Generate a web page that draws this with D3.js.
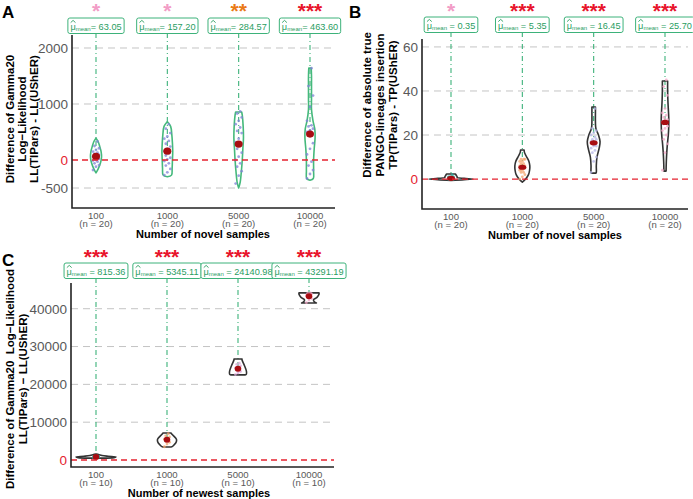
<!DOCTYPE html>
<html>
<head>
<meta charset="utf-8">
<script src="https://cdn.jsdelivr.net/npm/d3@7"></script>
<style>
  body { margin: 0; background: #fff; }
  text { font-family: "Liberation Sans", Arial, sans-serif; white-space: pre; }
</style>
</head>
<body>
<div id="rendering"></div>
<script>
const categories = ["100", "1000", "5000", "10000"];

const meansA = [63.05, 157.2, 284.57, 463.6];
const meansB = [0.35, 5.35, 16.45, 25.7];
const meansC = [815.36, 5345.11, 24140.98, 43291.19];

const starsA = ["*", "*", "**", "***"];
const starsB = ["*", "***", "***", "***"];
const starsC = ["***", "***", "***", "***"];

const ticksA = [-500, 0, 1000, 2000];
const ticksB = [0, 20, 40, 60];
const ticksC = [0, 10000, 20000, 30000, 40000];

// violin outlines: value levels and relative half widths
const levelsA = [
  [-230, -150, -50, 50, 150, 250, 330, 390],
  [-300, -270, -150, 0, 150, 300, 450, 600, 680],
  [-500, -400, -200, 0, 200, 400, 600, 800, 857],
  [-360, -330, -200, 0, 200, 400, 550, 700, 900, 1100, 1300, 1500, 1640]
];
const widthsA = [
  [0, 0.4, 0.75, 0.92, 0.85, 0.6, 0.35, 0],
  [0, 0.7, 0.8, 0.85, 0.9, 0.85, 0.75, 0.55, 0.05],
  [0, 0.25, 0.45, 0.6, 0.7, 0.8, 0.75, 0.6, 0.5],
  [0, 0.55, 0.6, 0.6, 0.7, 0.85, 0.8, 0.5, 0.25, 0.25, 0.25, 0.25, 0.2]
];
const levelsB = [
  [-0.6, -0.3, 0, 0.3, 0.7, 1, 1.5, 2.3],
  [-1.4, 0, 2, 4, 6, 8, 10, 12, 13.2],
  [2.7, 3, 6, 10, 14, 17, 20, 23, 26, 30, 32.7],
  [3.6, 4, 8, 12, 16, 20, 24, 28, 32, 36, 40, 44.5]
];
const widthsB = [
  [0, 0.6, 1, 0.6, 0.28, 0.28, 0.25, 0.2],
  [0, 0.15, 0.28, 0.33, 0.34, 0.3, 0.2, 0.1, 0.08],
  [0.1, 0.12, 0.12, 0.15, 0.25, 0.29, 0.22, 0.1, 0.08, 0.08, 0.08],
  [0.05, 0.05, 0.06, 0.08, 0.11, 0.15, 0.17, 0.17, 0.15, 0.13, 0.12, 0.12]
];
const levelsC = [
  [500, 600, 800, 1000, 1200, 1400, 1600],
  [3440, 3700, 5300, 6800, 7140],
  [22500, 22700, 23500, 25000, 26500, 26700],
  [41500, 41700, 42300, 43000, 43800, 44200]
];
const widthsC = [
  [0, 0.9, 1, 0.6, 0.3, 0.15, 0],
  [0.2, 0.3, 0.48, 0.25, 0.2],
  [0.35, 0.42, 0.42, 0.32, 0.2, 0.2],
  [0.37, 0.3, 0.22, 0.4, 0.5, 0.5]
];

// raw observations
const pointsA = [
  [-180, -120, -90, -60, -30, -10, 0, 20, 30, 50, 60, 70, 90, 110, 130, 150, 180, 210, 250, 330],
  [-270, -220, -160, -100, -60, -20, 10, 40, 80, 120, 160, 200, 240, 290, 340, 380, 420, 480, 560, 640],
  [-420, -280, -200, -120, -60, 0, 60, 130, 200, 260, 320, 380, 480, 520, 580, 640, 700, 760, 830, 870],
  [-330, -250, -180, -100, -30, 100, 200, 300, 450, 480, 500, 530, 560, 600, 620, 700, 950, 1150, 1320, 1640]
];
const pointsB = [
  [0, 0, 0, 0, 0, 0, 0, 0, 0, 0, 0, 0, 0, 0, 1, 1, 1, 1, 1, 2],
  [0, 1, 2, 3, 3, 4, 4, 5, 5, 5, 6, 6, 6, 7, 7, 8, 8, 9, 9, 9],
  [3, 8, 10, 12, 13, 14, 15, 15, 16, 16, 17, 17, 18, 18, 19, 20, 21, 22, 23, 32],
  [4, 12, 16, 18, 20, 22, 23, 24, 25, 26, 26, 27, 27, 28, 29, 30, 32, 38, 42, 45]
];
const pointsC = [
  [560, 640, 700, 760, 800, 830, 880, 930, 990, 1060],
  [3500, 4200, 4700, 5000, 5300, 5500, 5800, 6100, 6400, 6950],
  [22600, 23000, 23400, 23700, 24000, 24300, 24600, 24900, 25300, 25600],
  [41600, 42300, 42700, 43100, 43300, 43500, 43700, 43900, 44100, 44200]
];

const green = "#3db27a";
const greenText = "#2a9d5f";
const meanRed = "#a80d12";
const zeroRed = "#e5222f";
const starColors = { "*": "#f29cc6", "**": "#ea7a16", "***": "#e8142b" };

const width = 693;
const height = 499;

const svg = d3
  .select("#rendering")
  .append("svg")
  .attr("width", width)
  .attr("height", height);

function drawPanel(p) {
  const g = svg.append("g");

  const scaleX = d3.scalePoint().domain(categories).range(p.catRange);
  const scaleY = d3.scaleLinear().domain(p.domain).range([p.bottom, p.top]);
  const scaleW = d3.scaleLinear().domain([0, 1]).range([0, p.maxHalf]);

  // grid lines
  g.selectAll(".grid")
    .data(p.ticks.filter((t) => t !== 0))
    .enter()
    .append("line")
    .attr("x1", p.left)
    .attr("x2", p.right)
    .attr("y1", (d) => scaleY(d))
    .attr("y2", (d) => scaleY(d))
    .attr("stroke", "#c4c4c4")
    .attr("stroke-width", 1)
    .attr("stroke-dasharray", "7,5");

  // y tick labels
  g.selectAll(".ytick")
    .data(p.ticks)
    .enter()
    .append("text")
    .attr("x", p.left - 4)
    .attr("y", (d) => scaleY(d))
    .attr("dy", "0.36em")
    .attr("text-anchor", "end")
    .attr("font-size", 13.5)
    .attr("fill", (d) => (d === 0 ? zeroRed : "#595959"))
    .text((d) => d);

  // mean label connectors
  g.selectAll(".connector")
    .data(categories)
    .enter()
    .append("line")
    .attr("x1", (d) => scaleX(d))
    .attr("x2", (d) => scaleX(d))
    .attr("y1", p.boxY + 15)
    .attr("y2", (d, i) => scaleY(p.means[i]))
    .attr("stroke", green)
    .attr("stroke-width", 1.1)
    .attr("stroke-dasharray", "5,3,1,3");

  // violins
  const area = d3
    .area()
    .curve(d3.curveCatmullRom)
    .y((d) => scaleY(d[0]))
    .x0((d) => d[2] - scaleW(d[1]))
    .x1((d) => d[2] + scaleW(d[1]));

  g.selectAll(".violin")
    .data(categories)
    .enter()
    .append("path")
    .attr("d", (c, i) =>
      area(p.levels[i].map((v, k) => [v, p.widths[i][k], scaleX(c)]))
    )
    .attr("fill", "none")
    .attr("stroke", p.violinStroke)
    .attr("stroke-width", 1.6)
    .attr("stroke-linejoin", "round");

  // jittered points
  categories.forEach((c, i) => {
    g.selectAll(null)
      .data(p.points[i])
      .enter()
      .append("circle")
      .attr("cx", (d, k) => scaleX(c) + (((k * 7) % 5) - 2) * p.jitter)
      .attr("cy", (d) => scaleY(d))
      .attr("r", 1.4)
      .attr("fill", p.pointColors[i])
      .attr("opacity", 0.75);
  });

  // means
  g.selectAll(".mean")
    .data(categories)
    .enter()
    .append("ellipse")
    .attr("cx", (d) => scaleX(d))
    .attr("cy", (d, i) => scaleY(p.means[i]))
    .attr("rx", p.meanR[0])
    .attr("ry", p.meanR[1])
    .attr("fill", meanRed);

  // zero line
  g.append("line")
    .attr("x1", p.left)
    .attr("x2", p.right)
    .attr("y1", scaleY(0))
    .attr("y2", scaleY(0))
    .attr("stroke", zeroRed)
    .attr("stroke-width", 1.3)
    .attr("stroke-dasharray", "6,4");

  // axes lines
  g.append("path")
    .attr("d", `M${p.left},${p.top} V${p.axisBottom} H${p.right}`)
    .attr("fill", "none")
    .attr("stroke", "#222")
    .attr("stroke-width", 1.6);

  // mean label boxes, stars, x labels
  categories.forEach((c, i) => {
    const lab = g.append("g");
    const t = lab
      .append("text")
      .attr("x", scaleX(c))
      .attr("y", p.boxY + 11.5)
      .attr("font-size", 9.2)
      .attr("fill", greenText);
    t.append("tspan").text("μ");
    t.append("tspan").attr("font-size", 6).attr("dy", 1.5).text("mean");
    t.append("tspan")
      .attr("dy", -1.5)
      .text((p.spaceEq ? " = " : "= ") + p.means[i].toFixed(2));
    const w = t.node().getComputedTextLength();
    const x0 = scaleX(c) - w / 2;
    t.attr("x", x0);
    lab
      .insert("rect", "text")
      .attr("x", x0 - 2.5)
      .attr("y", p.boxY)
      .attr("width", w + 5)
      .attr("height", 15.5)
      .attr("rx", 2)
      .attr("fill", "#fff")
      .attr("stroke", green)
      .attr("stroke-width", 1);
    // hat over mu
    lab
      .append("path")
      .attr("d", `M${x0 + 0.3},${p.boxY + 4.6} L${x0 + 2.7},${p.boxY + 2.4} L${x0 + 5.1},${p.boxY + 4.6}`)
      .attr("fill", "none")
      .attr("stroke", greenText)
      .attr("stroke-width", 0.9);

    g.append("text")
      .attr("x", scaleX(c))
      .attr("y", p.starY)
      .attr("text-anchor", "middle")
      .attr("font-size", 21)
      .attr("font-weight", "bold")
      .attr("fill", starColors[p.stars[i]])
      .text(p.stars[i]);

    const xl = g
      .append("text")
      .attr("y", p.axisBottom + 10.5)
      .attr("text-anchor", "middle")
      .attr("font-size", 9.6)
      .attr("fill", "#595959");
    xl.append("tspan").attr("x", scaleX(c)).text(c);
    xl.append("tspan")
      .attr("x", scaleX(c))
      .attr("dy", 8.5)
      .text(`(n = ${p.points[i].length})`);
  });

  g.append("text")
    .attr("x", p.xTitleX)
    .attr("y", p.axisBottom + 30)
    .attr("text-anchor", "middle")
    .attr("font-size", 11)
    .attr("font-weight", "bold")
    .text(p.xTitle);

  p.yTitle.forEach((line, k) => {
    g.append("text")
      .attr("transform", `translate(${p.yTitleX + k * p.yTitleGap}, ${p.yTitleY}) rotate(-90)`)
      .attr("text-anchor", "middle")
      .attr("font-size", 11.5)
      .attr("font-weight", "bold")
      .text(line);
  });

  g.append("text")
    .attr("x", p.letter[0])
    .attr("y", p.letter[1])
    .attr("font-size", 17)
    .attr("font-weight", "bold")
    .text(p.letter[2]);
}

drawPanel({
  left: 72, right: 335, top: 35, bottom: 208, axisBottom: 208,
  catRange: [96, 310], domain: [-857, 2232], ticks: ticksA,
  means: meansA, stars: starsA, levels: levelsA, widths: widthsA,
  points: pointsA, pointColors: ["#7f82d6", "#7f82d6", "#7f82d6", "#7f82d6"],
  violinStroke: "#45b97c", maxHalf: 6, jitter: 1.5, meanR: [4, 3.6],
  boxY: 18, starY: 18, spaceEq: false,
  xTitle: "Number of novel samples", xTitleX: 203,
  yTitle: ["Difference of Gamma20", "Log−Likelihood", "LL(TIPars) - LL(UShER)"],
  yTitleX: 14, yTitleGap: 12, yTitleY: 119, letter: [2, 18, "A"]
});

drawPanel({
  left: 422, right: 688, top: 39, bottom: 209, axisBottom: 209,
  catRange: [451, 665], domain: [-13.6, 63.6], ticks: ticksB,
  means: meansB, stars: starsB, levels: levelsB, widths: widthsB,
  points: pointsB, pointColors: ["#2bb3a3", "#f4a46c", "#b4b4e6", "#f2a5c6"],
  violinStroke: "#333", maxHalf: 22, jitter: 1.3, meanR: [4, 2.6],
  boxY: 17, starY: 18, spaceEq: true,
  xTitle: "Number of novel samples", xTitleX: 555,
  yTitle: ["Difference of absolute true", "PANGO-lineages insertion", "TP(TIPars) - TP(UShER)"],
  yTitleX: 371, yTitleGap: 13, yTitleY: 105, letter: [349, 18, "B"]
});

drawPanel({
  left: 71, right: 334, top: 283, bottom: 467, axisBottom: 467,
  catRange: [96, 309], domain: [-1850, 46800], ticks: ticksC,
  means: meansC, stars: starsC, levels: levelsC, widths: widthsC,
  points: pointsC, pointColors: ["#2bb3a3", "#f4a46c", "#d9a6d6", "#f2a5c6"],
  violinStroke: "#333", maxHalf: 20, jitter: 1.3, meanR: [3.3, 3],
  boxY: 263, starY: 264, spaceEq: true,
  xTitle: "Number of newest samples", xTitleX: 199,
  yTitle: ["Difference of Gamma20  Log−Likelihood", "LL(TIPars) − LL(UShER)"],
  yTitleX: 14, yTitleGap: 13, yTitleY: 379, letter: [2, 266, "C"]
});
</script>
</body>
</html>
